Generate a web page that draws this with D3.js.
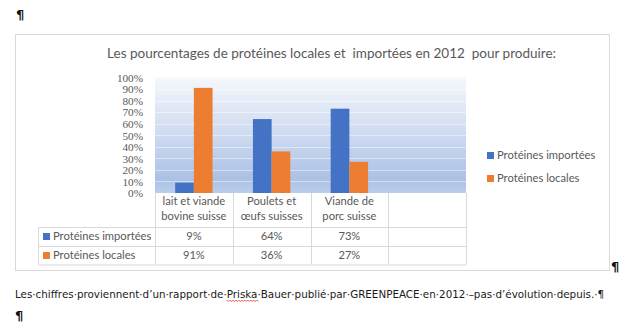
<!DOCTYPE html>
<html>
<head>
<meta charset="utf-8">
<script src="https://cdn.jsdelivr.net/npm/d3@7"></script>
<style>
  html, body { margin: 0; padding: 0; background: #ffffff; }
  svg { display: block; }
</style>
</head>
<body>
<svg id="doc" width="644" height="336"></svg>
<script>
// Chart data
const categories = ["lait et viande\nbovine suisse", "Poulets et\nœufs suisses", "Viande de\nporc suisse", ""];
const seriesNames = ["Protéines importées", "Protéines locales"];
const seriesColors = ["#4472c4", "#ed7d31"];
const importees = [9, 64, 73];
const locales = [91, 36, 27];
const yTicks = [0, 10, 20, 30, 40, 50, 60, 70, 80, 90, 100];
const title = "Les pourcentages de protéines locales et\u00A0 importées en 2012\u00A0 pour produire:";
const note = "Les·chiffres·proviennent·d’un·rapport·de·Priska·Bauer·publié·par·GREENPEACE·en·2012·–pas·d’évolution·depuis.·¶";

const series = [importees, locales];

const svg = d3.select("#doc");
const uiFont = "Lato, 'Open Sans', sans-serif";
const uiSize = 11.2;
const textGrey = "#595959";
const borderGrey = "#d9d9d9";

// Paragraph mark above the chart object
svg.append("text").attr("x", 16).attr("y", 19)
  .attr("font-family", "'DejaVu Sans', sans-serif").attr("font-size", 13)
  .attr("font-weight", "bold").attr("fill", "#111").text("¶");

// Chart frame
svg.append("rect").attr("x", 15.5).attr("y", 34.5).attr("width", 594).attr("height", 236)
  .attr("fill", "#ffffff").attr("stroke", borderGrey);

// Title
svg.append("text").attr("x", 331.5).attr("y", 58).attr("text-anchor", "middle")
  .attr("font-family", uiFont).attr("font-size", 13.5).attr("fill", textGrey)
  .style("white-space", "pre").text(title);

// Scales
const plot = { left: 155, right: 466, top: 77.5, bottom: 193 };
const x = d3.scaleBand().domain(d3.range(categories.length)).range([plot.left, plot.right]);
const xs = d3.scaleBand().domain(d3.range(series.length)).range([0, x.bandwidth()]).paddingOuter(1.08);
const y = d3.scaleLinear().domain([0, 100]).range([plot.bottom, plot.top]);

// Plot area gradient fill
const defs = svg.append("defs");
const grad = defs.append("linearGradient").attr("id", "plotFill")
  .attr("x1", 0).attr("y1", 0).attr("x2", 0).attr("y2", 1);
grad.append("stop").attr("offset", "0%").attr("stop-color", "#f5f7fc");
grad.append("stop").attr("offset", "55%").attr("stop-color", "#c9d7ef");
grad.append("stop").attr("offset", "88%").attr("stop-color", "#abc1e5");
grad.append("stop").attr("offset", "100%").attr("stop-color", "#bccdec");

svg.append("rect").attr("x", plot.left).attr("y", plot.top)
  .attr("width", plot.right - plot.left).attr("height", plot.bottom - plot.top)
  .attr("fill", "url(#plotFill)");

// Gridlines
svg.append("g").selectAll("line").data(yTicks.slice(1)).join("line")
  .attr("x1", plot.left).attr("x2", plot.right)
  .attr("y1", d => Math.round(y(d)) + 0.5).attr("y2", d => Math.round(y(d)) + 0.5)
  .attr("stroke", "#ffffff").attr("stroke-opacity", 0.45);

// Y axis
const yAxis = svg.append("g").attr("transform", `translate(${plot.left - 12},0)`)
  .call(d3.axisLeft(y).tickValues(yTicks).tickSize(0).tickPadding(0).tickFormat(d => d + "%"));
yAxis.select(".domain").remove();
yAxis.selectAll("text").attr("font-family", "'Liberation Serif', serif")
  .attr("font-size", 11.2).attr("fill", textGrey).attr("dy", "0.34em");

// Bars
const groups = svg.append("g").selectAll("g").data(series).join("g")
  .attr("fill", (d, i) => seriesColors[i]);
groups.each(function (vals, si) {
  d3.select(this).selectAll("rect").data(vals).join("rect")
    .attr("x", (v, ci) => x(ci) + xs(si))
    .attr("width", xs.bandwidth())
    .attr("y", v => y(v))
    .attr("height", v => y(0) - y(v));
});

// Data table
const rowTop = plot.bottom, catBottom = 227, row1Bottom = 246, row2Bottom = 264.5;
const legendLeft = 38.5;
const table = svg.append("g").attr("stroke", borderGrey).attr("fill", "none");
x.domain().concat([categories.length]).forEach(i => {
  const xx = (i < categories.length ? x(i) : plot.right);
  table.append("line").attr("x1", Math.round(xx) + 0.5).attr("x2", Math.round(xx) + 0.5)
    .attr("y1", rowTop).attr("y2", row2Bottom);
});
[catBottom, row1Bottom, row2Bottom].forEach(yy => {
  table.append("line").attr("x1", legendLeft).attr("x2", plot.right + 0.5)
    .attr("y1", yy + 0.5).attr("y2", yy + 0.5);
});
table.append("line").attr("x1", legendLeft).attr("x2", legendLeft)
  .attr("y1", catBottom).attr("y2", row2Bottom);

// Category labels
svg.append("g").selectAll("text").data(categories).join("text")
  .attr("x", (d, i) => x(i) + x.bandwidth() / 2).attr("y", 205)
  .attr("text-anchor", "middle").attr("font-family", uiFont).attr("font-size", uiSize)
  .attr("fill", textGrey)
  .each(function (d) {
    d.split("\n").forEach((line, k) => {
      d3.select(this).append("tspan").attr("x", d3.select(this).attr("x"))
        .attr("dy", k === 0 ? 0 : 15).text(line);
    });
  });

// Table rows: legend key + values
const rowCenters = [236.5, 255.5];
series.forEach((vals, si) => {
  const cy = rowCenters[si];
  svg.append("rect").attr("x", 43).attr("y", cy - 3.5).attr("width", 7).attr("height", 7)
    .attr("fill", seriesColors[si]);
  svg.append("text").attr("x", 53).attr("y", cy).attr("dy", "0.35em")
    .attr("font-family", uiFont).attr("font-size", uiSize).attr("fill", textGrey)
    .text(seriesNames[si]);
  svg.append("g").selectAll("text").data(vals).join("text")
    .attr("x", (v, ci) => x(ci) + x.bandwidth() / 2).attr("y", cy).attr("dy", "0.35em")
    .attr("text-anchor", "middle").attr("font-family", uiFont).attr("font-size", uiSize)
    .attr("fill", textGrey).text(v => v + "%");
});

// Legend
const legendRows = [155.5, 178.5];
seriesNames.forEach((name, si) => {
  const cy = legendRows[si];
  svg.append("rect").attr("x", 487).attr("y", cy - 3.5).attr("width", 7).attr("height", 7)
    .attr("fill", seriesColors[si]);
  svg.append("text").attr("x", 497).attr("y", cy).attr("dy", "0.35em")
    .attr("font-family", uiFont).attr("font-size", uiSize).attr("fill", textGrey).text(name);
});

// Paragraph mark after the chart object
svg.append("text").attr("x", 611).attr("y", 271)
  .attr("font-family", "'DejaVu Sans', sans-serif").attr("font-size", 13)
  .attr("font-weight", "bold").attr("fill", "#111").text("¶");

// Source note with formatting marks
const noteText = svg.append("text").attr("x", 15).attr("y", 298)
  .attr("font-family", "'DejaVu Sans', sans-serif").attr("font-size", 10.35)
  .attr("fill", "#1a1a1a").text(note);
// Proofing underline under the proper name
const start = note.indexOf("Priska");
const node = noteText.node();
const ux0 = node.getStartPositionOfChar(start).x;
const ux1 = node.getEndPositionOfChar(start + 5).x;
let wave = `M${ux0},300`;
for (let px = ux0, k = 0; px < ux1; px += 1.5, k++) wave += `L${px + 1.5},${k % 2 ? 300 : 301.5}`;
svg.append("path").attr("d", wave).attr("fill", "none").attr("stroke", "#e03030").attr("stroke-width", 0.8);

// Empty paragraph mark
svg.append("text").attr("x", 15).attr("y", 320)
  .attr("font-family", "'DejaVu Sans', sans-serif").attr("font-size", 13)
  .attr("font-weight", "bold").attr("fill", "#111").text("¶");
</script>
</body>
</html>
